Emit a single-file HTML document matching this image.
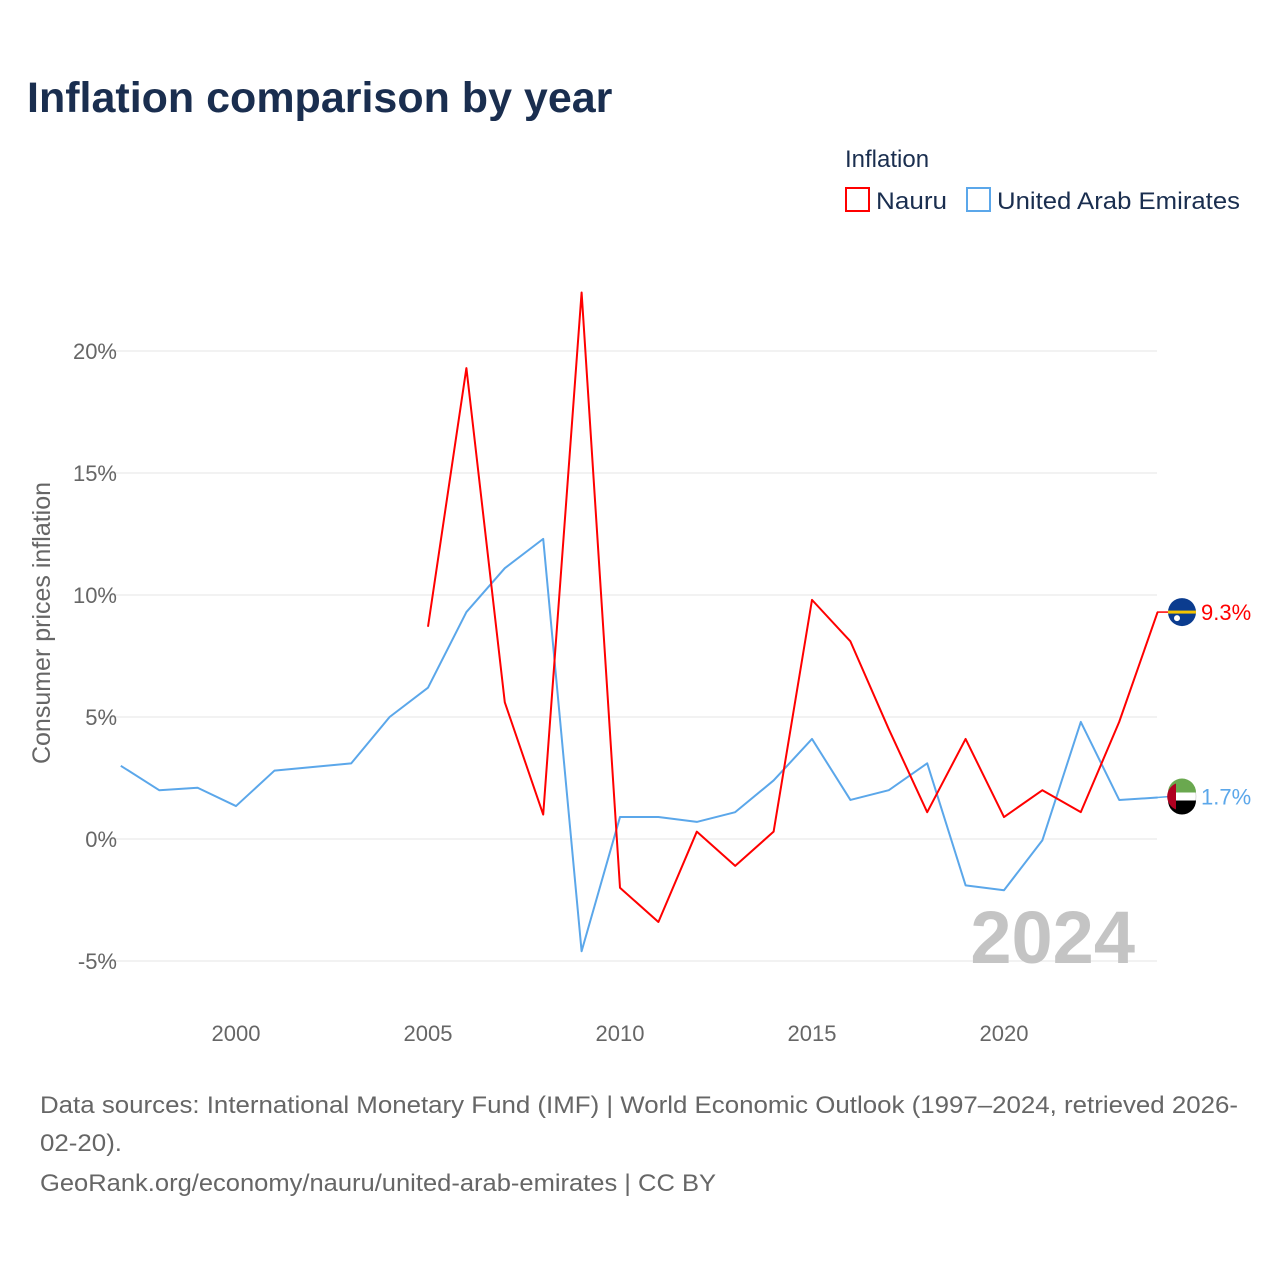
<!DOCTYPE html>
<html><head><meta charset="utf-8"><style>
body{margin:0;background:#fff;font-family:"Liberation Sans",sans-serif;}
svg text{font-family:"Liberation Sans",sans-serif;}
</style></head><body>
<svg width="1280" height="1280" viewBox="0 0 1280 1280">
<text x="27" y="112" font-size="43" font-weight="bold" fill="#1a2e4f">Inflation comparison by year</text>
<text x="845" y="167" font-size="24" fill="#1a2e4f">Inflation</text>
<g><rect x="846" y="188" width="23" height="23" fill="none" stroke="#ff0000" stroke-width="2"/><text x="876" y="209" font-size="24" fill="#1a2e4f" textLength="71" lengthAdjust="spacingAndGlyphs">Nauru</text></g>
<g><rect x="967" y="188" width="23" height="23" fill="none" stroke="#5ba7ea" stroke-width="2"/><text x="997" y="209" font-size="24" fill="#1a2e4f" textLength="243" lengthAdjust="spacingAndGlyphs">United Arab Emirates</text></g>
<g id="grid"></g><g id="xt"></g>
<text transform="translate(50,623) rotate(-90)" text-anchor="middle" font-size="25" fill="#666">Consumer prices inflation</text>
<text x="1135" y="963" text-anchor="end" font-size="74" font-weight="bold" fill="#c4c4c4">2024</text>
<g id="series"></g>
<g id="ends"></g>
<text x="40" y="1113" font-size="24" fill="#666" textLength="1198" lengthAdjust="spacingAndGlyphs">Data sources: International Monetary Fund (IMF) | World Economic Outlook (1997–2024, retrieved 2026-</text>
<text x="40" y="1151" font-size="24" fill="#666" textLength="82" lengthAdjust="spacingAndGlyphs">02-20).</text>
<text x="40" y="1191" font-size="24" fill="#666" textLength="676" lengthAdjust="spacingAndGlyphs">GeoRank.org/economy/nauru/united-arab-emirates | CC BY</text>
</svg>
<script>
const years=[1997,1998,1999,2000,2001,2002,2003,2004,2005,2006,2007,2008,2009,2010,2011,2012,2013,2014,2015,2016,2017,2018,2019,2020,2021,2022,2023,2024];
const uae=[3.0,2.0,2.1,1.35,2.8,2.95,3.1,5.0,6.2,9.3,11.1,12.3,-4.6,0.9,0.9,0.7,1.1,2.4,4.1,1.6,2.0,3.1,-1.9,-2.1,-0.05,4.8,1.6,1.7];
const nauru=[null,null,null,null,null,null,null,null,8.7,19.3,5.6,1.0,22.4,-2.0,-3.4,0.3,-1.1,0.3,9.8,8.1,4.5,1.1,4.1,0.9,2.0,1.1,4.8,9.3];
const yTicks=[20,15,10,5,0,-5];
const xTicks=[2000,2005,2010,2015,2020];
const NS='http://www.w3.org/2000/svg';
const X=y=>120.8+(y-1997)*38.4, Y=v=>839-v*24.4;
function el(t,a,p){const e=document.createElementNS(NS,t);for(const k in a)e.setAttribute(k,a[k]);document.getElementById(p).appendChild(e);return e;}
yTicks.forEach(v=>{
 const l=el('line',{x1:100,x2:1157,y1:Y(v),y2:Y(v),stroke:'#e6e6e6','stroke-width':1},'grid');
 
 
 const t=el('text',{x:117,y:Y(v)+8,'text-anchor':'end','font-size':22,fill:'#666'},'grid');t.textContent=v+'%';
 
 
});
xTicks.forEach(v=>{
 const t=el('text',{x:X(v),y:1041,'text-anchor':'middle','font-size':22,fill:'#666'},'xt');t.textContent=v;
 
 
});
function line(d,c,name){let s='';d.forEach((v,i)=>{if(v==null)return;s+=(s?'L':'M')+X(years[i])+' '+Y(v);});
 const p=el('path',{d:s,fill:'none',stroke:c,'stroke-width':2,'stroke-linejoin':'round'},'series');
 
 }
line(uae,'#5ba7ea','uae-line');line(nauru,'#ff0000','nauru-line');
function end(v,c,name,flag,dy){const y=Y(v)+dy;
 el('line',{x1:1157,x2:1170,y1:Y(v),y2:y,stroke:c,'stroke-width':1.5},'ends');
 if(flag==='n'){const g=el('circle',{cx:1182,cy:y,r:14,fill:'#0b3c8f'},'ends');
  el('rect',{x:1168,y:y-1.5,width:28,height:3,fill:'#f5c400'},'ends');el('circle',{cx:1177,cy:y+6,r:3,fill:'#fff'},'ends');}
 else{const g=el('circle',{cx:1182,cy:y,r:14,fill:'#fff',stroke:'#ddd'},'ends');
  el('path',{d:`M1168 ${y-4}A14 14 0 0 1 1196 ${y-4}Z`,fill:'#6aa84f'},'ends');
  el('path',{d:`M1168 ${y+4}A14 14 0 0 0 1196 ${y+4}Z`,fill:'#000'},'ends');
  el('path',{d:`M1176 ${y-13}A14 14 0 0 0 1176 ${y+13}Z`,fill:'#b00020'},'ends');}
 const t=el('text',{x:1201,y:y+8,'font-size':22,fill:c},'ends');t.textContent=v+'%';
 
 }
end(nauru[nauru.length-1],'#ff0000','nauru-end-label','n',0);
end(uae[uae.length-1],'#5ba7ea','uae-end-label','u',-1);
</script>
</body></html>
